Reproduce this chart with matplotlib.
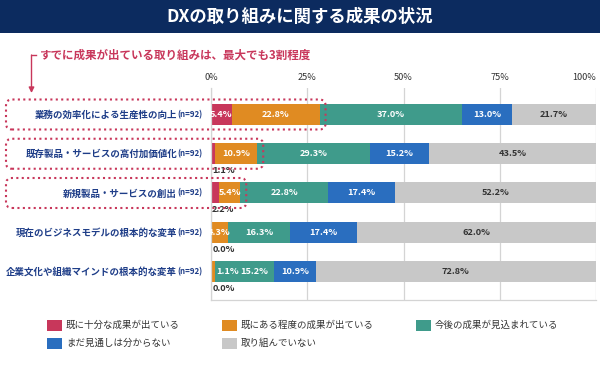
import numpy as np
import matplotlib.pyplot as plt
from matplotlib.patches import Rectangle, FancyBboxPatch

plt.rcParams['font.family'] = ['Noto Sans CJK JP', 'DejaVu Sans']

# データ
categories = ['業務の効率化による生産性の向上',
              '既存製品・サービスの高付加価値化',
              '新規製品・サービスの創出',
              '現在のビジネスモデルの根本的な変革',
              '企業文化や組織マインドの根本的な変革']
n_label = '(n=92)'
series_names = ['既に十分な成果が出ている', '既にある程度の成果が出ている', '今後の成果が見込まれている',
                'まだ見通しは分からない', '取り組んでいない']
already_full = [5.4, 1.1, 2.2, 0.0, 0.0]
already_some = [22.8, 10.9, 5.4, 4.3, 1.1]
expected = [37.0, 29.3, 22.8, 16.3, 15.2]
unknown = [13.0, 15.2, 17.4, 17.4, 10.9]
not_started = [21.7, 43.5, 52.2, 62.0, 72.8]
x_ticks = [0, 25, 50, 75, 100]
x_ticklabels = ['0%', '25%', '50%', '75%', '100%']
title = 'DXの取り組みに関する成果の状況'
note = 'すでに成果が出ている取り組みは、最大でも3割程度'
highlight_rows = [0, 1, 2]

colors = ['#c8375b', '#e08b22', '#3f9b8b', '#2a6ebf', '#c8c8c8']
navy = '#0c2b5f'
crimson = '#c8375b'
label_blue = '#1e3d88'
dark = '#333333'

W, H = 600, 370
fig = plt.figure(figsize=(W / 100, H / 100), dpi=100)

ax = fig.add_axes([211 / W, 1 - 300 / H, 385 / W, 212 / H])
series = [already_full, already_some, expected, unknown, not_started]
y = np.arange(len(categories))
bar_h = 0.535
vfs = 6.6
left = np.zeros(len(categories))
for s, vals in enumerate(series):
    vals = np.array(vals)
    ax.barh(y, vals, left=left, height=bar_h, color=colors[s], edgecolor='none', zorder=2)
    for i, v in enumerate(vals):
        txt = f'{v:.1f}%'
        tc = dark if s == 4 else 'white'
        if s == 0 and v < 3:
            # 小さい値はバーの下に表示
            ax.text(left[i] + 0.3, y[i] + bar_h / 2 + 0.16, txt, ha='left', va='center',
                    fontsize=vfs, color=dark, fontweight='bold', zorder=3)
        elif v < 3:
            ax.text(left[i] + v + 0.3, y[i], txt, ha='left', va='center',
                    fontsize=vfs, color=tc, fontweight='bold', zorder=3)
        else:
            cx = left[i] + v / 2
            if s == 2 and series[1][i] < 3:
                cx += 2.4
            ax.text(cx, y[i], txt, ha='center', va='center',
                    fontsize=vfs, color=tc, fontweight='bold', zorder=3)
    left += vals

ax.set_xlim(0, 100)
ax.set_ylim(len(categories) - 1 + 0.726, -0.675)
ax.set_xticks(x_ticks)
ax.set_xticklabels(x_ticklabels, fontsize=6.6, color=dark)
ax.xaxis.tick_top()
ax.tick_params(axis='x', length=0, pad=4)
ax.get_xticklabels()[-1].set_ha('right')
ax.set_yticks([])
ax.grid(axis='x', color='#d4d4d4', lw=0.9, zorder=0)
for sp in ['top', 'right']:
    ax.spines[sp].set_visible(False)
for sp in ['left', 'bottom']:
    ax.spines[sp].set_color('#d4d4d4')
    ax.spines[sp].set_linewidth(0.9)

# オーバーレイ（ピクセル座標）
ov = fig.add_axes([0, 0, 1, 1], zorder=5)
ov.set_xlim(0, W)
ov.set_ylim(0, H)
ov.axis('off')
ov.patch.set_alpha(0)

# タイトル帯
ov.add_patch(Rectangle((0, H - 33), W, 33, color=navy, lw=0))
ov.text(W / 2, H - 17, title, ha='center', va='center', fontsize=12.5,
        color='white', fontweight='bold')

# 注記と矢印
ov.text(40, H - 55, note, ha='left', va='center', fontsize=8.3, color=crimson, fontweight='bold')
ov.plot([36, 31.5], [H - 55, H - 55], color=crimson, lw=1)
ov.annotate('', xy=(31.5, H - 93), xytext=(31.5, H - 55),
            arrowprops=dict(arrowstyle='-|>', color=crimson, lw=1, mutation_scale=8, shrinkA=0, shrinkB=0))

# カテゴリラベル
fig.canvas.draw()
for i, cat in enumerate(categories):
    ypx = ax.transData.transform((0, y[i]))[1]
    nt = ov.text(203, ypx, n_label, ha='right', va='center', fontsize=5.7,
                 color=label_blue, fontweight='bold')
    ov.annotate(cat, xy=(0, 0.45), xycoords=nt, ha='right', va='center', fontsize=6.8,
                color=label_blue, fontweight='bold', xytext=(-0.5, 0), textcoords='offset points')

# 強調の点線枠
for i in highlight_rows:
    cum = series[0][i] + series[1][i]
    xr = ax.transData.transform((cum, y[i]))[0] + 6
    ypx = ax.transData.transform((0, y[i]))[1]
    ov.add_patch(FancyBboxPatch((6, ypx - 15), xr - 6, 30,
                                boxstyle='round,pad=0,rounding_size=6',
                                fc='none', ec=crimson, lw=1.5, ls=(0, (1, 1.6))))

# 凡例
leg_x = [47, 222, 416]
leg_y = [H - 325, H - 343]
for s, name in enumerate(series_names):
    lx = leg_x[s % 3]
    ly = leg_y[s // 3]
    ov.add_patch(Rectangle((lx, ly - 5.5), 15, 11, color=colors[s], lw=0))
    ov.text(lx + 19, ly, name, ha='left', va='center', fontsize=6.8, color=dark)

fig.savefig('out.png', dpi=100)
